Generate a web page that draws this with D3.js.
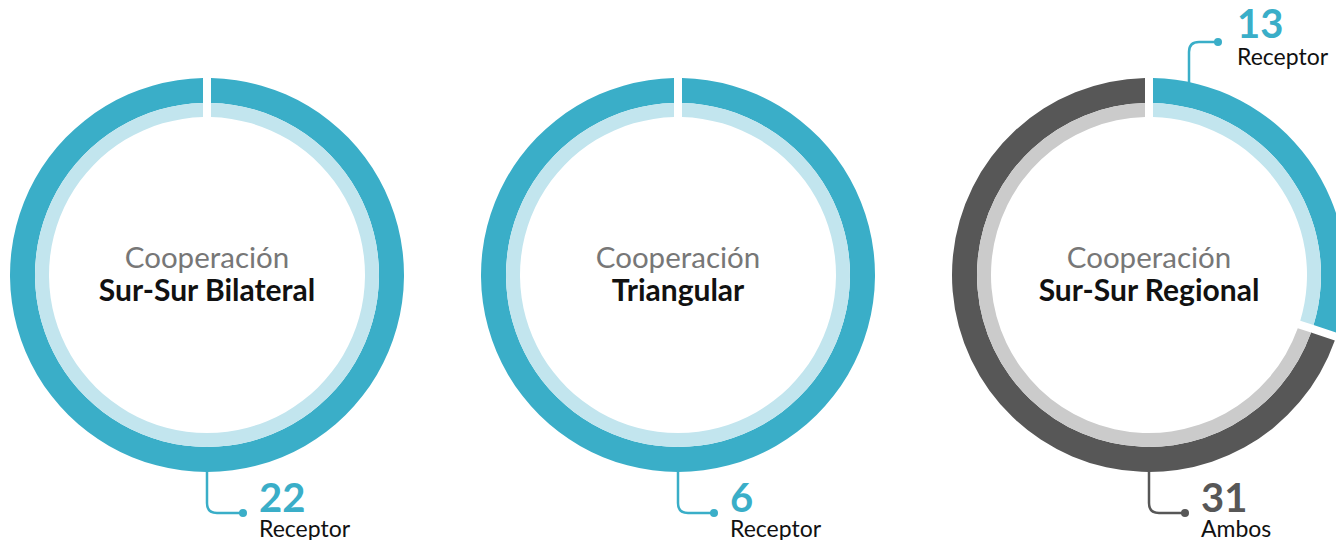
<!DOCTYPE html>
<html>
<head>
    <script src="https://d3js.org/d3.v7.min.js"></script>
</head>
<style>
body { margin: 0; background: #fff; }
svg text { font-family: Lato, "Noto Sans", sans-serif; }
</style>
<body>
<div id="chart"></div>
<script>
    // Data
    var kinds = ["Sur-Sur Bilateral", "Triangular", "Sur-Sur Regional"];
    var roles = ["Receptor", "Ambos"];
    var receptor = [22, 6, 13];
    var ambos = [0, 0, 31];

    var width = 1336, height = 540;
    var cy = 275, rOuter = 197, rMid = 172, rInner = 158;

    var colors = {Receptor: "#3aaec8", Ambos: "#575757"};
    var lightColors = {Receptor: "#c2e5ee", Ambos: "#cbcbcb"};
    var textColors = {Receptor: "#3aaec8", Ambos: "#575757"};

    var svg = d3.select("#chart").append("svg")
        .attr("width", width)
        .attr("height", height);

    // centres of the three donuts
    var x = d3.scalePoint().domain(kinds).range([207, 1149]);

    var pie = d3.pie()
        .sort(null)
        .value(d => d.value)
        .endAngle(2 * Math.PI - 1e-6)   // keeps the gap even when there is only one slice
        .padAngle(0.08);

    // padRadius fixed so the gap keeps the same width (8px) on both rings
    var arcOuter = d3.arc().innerRadius(rMid).outerRadius(rOuter).padRadius(100);
    var arcInner = d3.arc().innerRadius(rInner).outerRadius(rMid).padRadius(100);

    kinds.forEach(function(kind, i) {
        var cx = x(kind);
        var slices = [
            {role: roles[0], value: receptor[i]},
            {role: roles[1], value: ambos[i]}
        ].filter(d => d.value > 0);

        var g = svg.append("g").attr("transform", "translate(" + cx + "," + cy + ")");
        var arcs = pie(slices);

        g.selectAll("path.outer").data(arcs).enter().append("path")
            .attr("class", "outer")
            .attr("d", arcOuter)
            .attr("fill", d => colors[d.data.role]);
        g.selectAll("path.inner").data(arcs).enter().append("path")
            .attr("class", "inner")
            .attr("d", arcInner)
            .attr("fill", d => lightColors[d.data.role]);

        // centre label
        g.append("text")
            .attr("text-anchor", "middle")
            .attr("y", -7)
            .attr("font-size", "29.5px")
            .attr("fill", "#777777")
            .text("Cooperación");
        g.append("text")
            .attr("text-anchor", "middle")
            .attr("y", 26)
            .attr("font-size", "30px")
            .attr("font-weight", "bold")
            .attr("fill", "#111111")
            .text(kind);

        // callouts
        arcs.forEach(function(a) {
            var col = colors[a.data.role];
            var hitsBottom = a.startAngle <= Math.PI && a.endAngle >= Math.PI;
            var c = g.append("g");
            if (hitsBottom) {
                var y0 = rOuter - 2, y1 = 238;
                c.append("path")
                    .attr("d", "M0," + y0 + " L0," + (y1 - 10) + " Q0," + y1 + " 10," + y1 + " L36," + y1)
                    .attr("fill", "none")
                    .attr("stroke", col)
                    .attr("stroke-width", 2.5);
                c.append("circle").attr("cx", 36).attr("cy", y1).attr("r", 4).attr("fill", col);
                c.append("text")
                    .attr("x", 52).attr("y", y1 - 1)
                    .attr("font-size", "40px").attr("font-weight", "bold")
                    .attr("fill", textColors[a.data.role])
                    .text(a.data.value);
                c.append("text")
                    .attr("x", 52).attr("y", y1 + 24)
                    .attr("font-size", "23px")
                    .attr("fill", "#111111")
                    .text(a.data.role);
            } else {
                var lx = 40;
                var ry0 = -Math.sqrt(rOuter * rOuter - lx * lx) + 2, ry1 = -233;
                c.append("path")
                    .attr("d", "M" + lx + "," + ry0 + " L" + lx + "," + (ry1 + 10) + " Q" + lx + "," + ry1 + " " + (lx + 10) + "," + ry1 + " L" + (lx + 29) + "," + ry1)
                    .attr("fill", "none")
                    .attr("stroke", col)
                    .attr("stroke-width", 2.5);
                c.append("circle").attr("cx", lx + 29).attr("cy", ry1).attr("r", 4).attr("fill", col);
                c.append("text")
                    .attr("x", lx + 48).attr("y", ry1 - 4)
                    .attr("font-size", "40px").attr("font-weight", "bold")
                    .attr("fill", textColors[a.data.role])
                    .text(a.data.value);
                c.append("text")
                    .attr("x", lx + 48).attr("y", ry1 + 23)
                    .attr("font-size", "23px")
                    .attr("fill", "#111111")
                    .text(a.data.role);
            }
        });
    });
</script>
</body>
</html>
